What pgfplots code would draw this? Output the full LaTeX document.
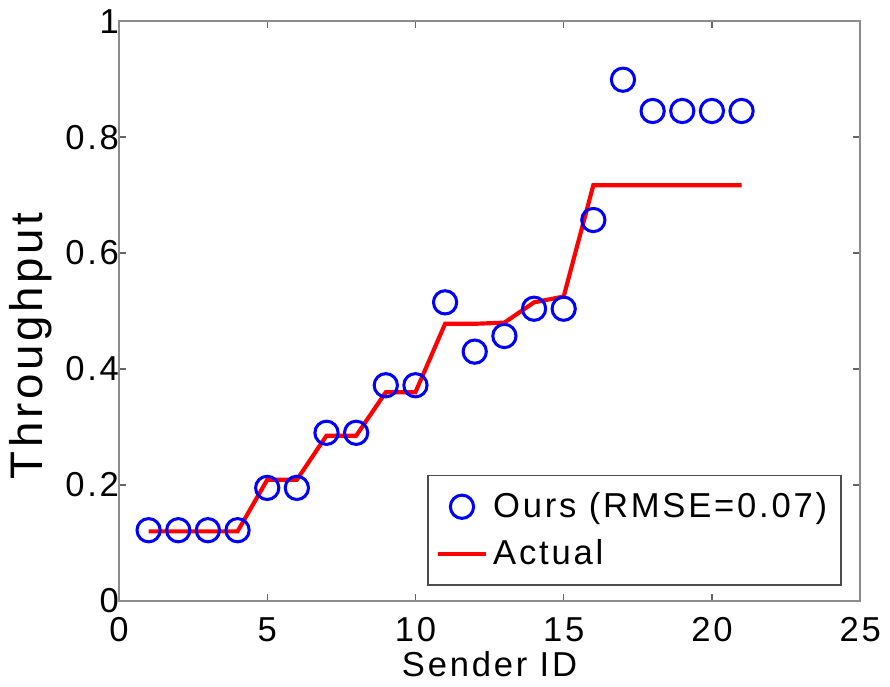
\documentclass[border=0pt]{standalone}
\usepackage{pgfplots}
\pgfplotsset{compat=1.18}
\usepackage{fontspec}
\setmainfont{Liberation Sans}[LetterSpace=8]
\definecolor{oursblue}{RGB}{0,0,255}
\definecolor{actualred}{RGB}{255,0,0}
\begin{document}
\begin{tikzpicture}
\begin{axis}[
  scale only axis,
  width=267.8pt, height=209.5pt,
  xmin=0, xmax=25, ymin=0, ymax=1,
  xtick={0,5,10,15,20,25},
  ytick={0,0.2,0.4,0.6,0.8,1},
  yticklabels={0,0.2,0.4,0.6,0.8,1},
  /pgf/number format/assume math mode=true,
  tick align=inside,
  major tick length=2.5pt,
  axis line style={black!45, line width=0.6pt},
  tick style={black!60, line width=0.5pt},
  font=\fontsize{12.5}{15}\selectfont,
  yticklabel style={xshift=3.5pt},
  xticklabel style={yshift=-2.5pt},
  xlabel={Sender ID},
  ylabel={Throughput},
  xlabel style={yshift=3.5pt},
  ylabel style={at={(ticklabel cs:0.44)}, yshift=-2pt,
    font=\fontsize{16.5}{19}\selectfont},
  legend style={at={(0.975,0.026)}, anchor=south east, draw=black!70,
    line width=0.5pt, font=\fontsize{12.5}{15}\selectfont,
    inner xsep=3pt, inner ysep=4pt, row sep=2.5pt},
  legend cell align=left,
]
\addplot[only marks, mark=o, mark size=4.2pt, mark options={draw=oursblue, line width=1.1pt}]
coordinates {
  (1,0.122) (2,0.122) (3,0.122) (4,0.122)
  (5,0.195) (6,0.195) (7,0.290) (8,0.290)
  (9,0.372) (10,0.372) (11,0.515) (12,0.430)
  (13,0.457) (14,0.504) (15,0.504) (16,0.657)
  (17,0.899) (18,0.845) (19,0.845) (20,0.845) (21,0.845)
};
\addlegendentry{Ours (RMSE=0.07)}
\addplot[actualred, line width=1.5pt, no marks]
coordinates {
  (1,0.120) (2,0.120) (3,0.120) (4,0.120)
  (5,0.209) (6,0.209) (7,0.285) (8,0.285)
  (9,0.360) (10,0.360) (11,0.478) (12,0.478)
  (13,0.480) (14,0.515) (15,0.525) (16,0.717)
  (17,0.717) (18,0.717) (19,0.717) (20,0.717) (21,0.717)
};
\addlegendentry{Actual}
\end{axis}
\end{tikzpicture}
\end{document}
